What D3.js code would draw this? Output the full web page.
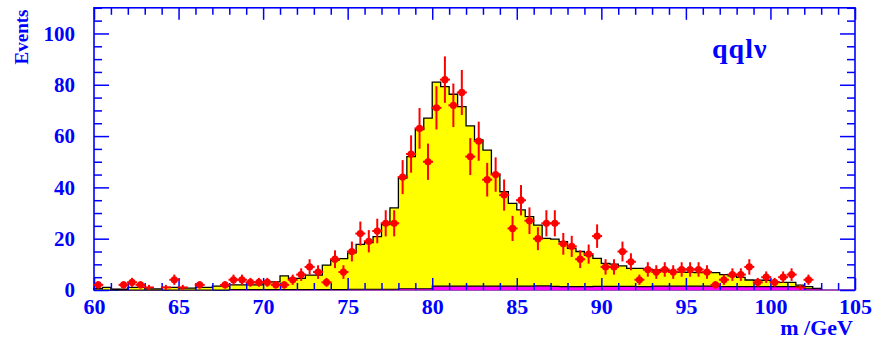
<!DOCTYPE html>
<html>
<head>
<meta charset="utf-8">
<script src="https://cdn.jsdelivr.net/npm/d3@7/dist/d3.min.js"></script>
<style>
  html, body { margin: 0; padding: 0; background: #fff; }
  svg { display: block; }
  svg text { font-family: "Liberation Serif", "Times New Roman", serif !important; font-weight: bold; fill: #0000ff; }
</style>
</head>
<body>
<svg id="chart" width="872" height="339"></svg>
<script>
// Mass histogram, 0.5 GeV bins from 60 to 103 GeV
const binLow = 60, binWidth = 0.5;

// Observed events per bin (bin centres 60.25 ... 102.75)
const dataCounts = [
  2, 0, 0, 2, 3, 2, 1, 0, 1, 4,
  1, 0, 2, 0, 0, 2, 4, 4, 3, 3,
  3, 2, 2, 4, 6, 9, 7, 3, 12, 7,
  15, 22, 19, 23, 26, 26, 44, 53, 63, 50,
  71, 82, 72, 77, 52, 58, 43, 45, 37, 24,
  35, 27, 20, 26, 26, 18, 17, 12, 14, 21,
  9, 9, 15, 11, 4, 8, 7, 8, 7, 8,
  8, 8, 7, 2, 4, 6, 6, 9, 3, 5,
  3, 5, 6, 1, 4, 0
];

// Total Monte Carlo expectation per bin
const mcTotal = [
  0.5, 1.0, 0.3, 0.3, 1.0, 1.0, 0.4, 0.4, 1.0, 1.0,
  0.7, 0.7, 1.0, 1.0, 1.5, 1.5, 2.0, 2.0, 2.0, 2.0,
  3.2, 3.2, 5.5, 4.5, 4.5, 5.8, 5.8, 9.7, 11.7, 12.2,
  14.5, 17.8, 18.5, 20.8, 25.5, 32.0, 43.6, 52.0, 62.5, 67.0,
  81.0, 79.3, 76.3, 71.5, 64.0, 58.5, 54.5, 45.2, 38.3, 33.8,
  31.2, 28.6, 25.3, 20.1, 19.8, 18.8, 16.2, 15.0, 13.6, 12.3,
  10.4, 10.1, 9.4, 8.4, 8.4, 8.0, 7.8, 7.5, 7.0, 7.0,
  6.9, 6.8, 6.8, 6.8, 6.0, 5.5, 4.9, 3.9, 3.8, 3.8,
  3.2, 3.0, 3.0, 1.9, 1.3, 0.6
];

// Background component (magenta)
const mcBackground = [
  0, 0, 0, 0, 0, 0, 0, 0, 0, 0,
  0, 0, 0, 0, 0, 0, 0.2, 0.2, 0.2, 0.2,
  0.2, 0.2, 0.2, 0.2, 0.2, 0.2, 0.2, 0.2, 0.2, 0.2,
  0.3, 0.3, 0.3, 0.3, 0.3, 0.3, 0.5, 0.5, 0.5, 0.5,
  1.5, 1.5, 1.5, 1.5, 1.5, 1.5, 1.5, 1.5, 1.5, 1.5,
  1.5, 1.5, 1.6, 1.6, 1.4, 1.3, 1.3, 1.3, 1.3, 1.4,
  1.4, 1.4, 1.4, 1.4, 1.3, 1.3, 1.5, 1.5, 1.5, 1.5,
  1.5, 1.5, 1.5, 1.5, 1.3, 1.3, 1.3, 1.3, 1.3, 1.3,
  1.3, 1.3, 1.3, 1.3, 0.5, 0.5
];

// Second background component (red), 60 to 105 GeV
const mcOther = [
  0, 0.3, 0.3, 0, 0, 0, 0, 0, 0.3, 0,
  0, 0, 0, 0, 0.3, 0.3, 0, 0, 0, 0,
  0, 0, 0, 0, 0, 0, 0, 0, 0, 0,
  0, 0, 0, 0, 0, 0, 0, 0, 0, 0,
  0, 0, 0, 0, 0, 0, 0, 0, 0, 0,
  0, 0, 0, 0, 0, 0, 0, 0, 0, 0,
  0, 0, 0, 0, 0, 0, 0, 0, 0, 0,
  0, 0, 0, 0, 0, 0, 0, 0, 0, 0,
  0, 0, 0, 0, 0, 0, 0, 0, 0, 0
];

const xMajorTicks = [60, 65, 70, 75, 80, 85, 90, 95, 100, 105];
const yMajorTicks = [0, 20, 40, 60, 80, 100];

const blue = "#0000ff";
const serif = '"Liberation Serif", "Times New Roman", serif';
const svg = d3.select("#chart");

const x = d3.scaleLinear().domain([60, 105]).range([94, 855]);
const y = d3.scaleLinear().domain([0, 110]).range([290, 7.8]);

// step-histogram helpers
function histPoints(vals) {
  const pts = vals.map((v, i) => [binLow + i * binWidth, v]);
  pts.push([binLow + vals.length * binWidth, vals[vals.length - 1]]);
  return pts;
}
const area = d3.area().curve(d3.curveStepAfter)
  .x(d => x(d[0])).y0(y(0)).y1(d => y(d[1]));
function outline(vals) {
  const xs0 = binLow, xs1 = binLow + vals.length * binWidth;
  const pts = histPoints(vals).map(d => [x(d[0]), y(d[1])]);
  const line = d3.line().curve(d3.curveStepAfter);
  return "M" + x(xs0) + "," + y(0) + "L" + line(pts).slice(1) + "L" + x(xs1) + "," + y(0);
}

function drawHist(vals, fill, stroke, sw) {
  svg.append("path").attr("d", area(histPoints(vals))).attr("fill", fill).attr("stroke", "none");
  svg.append("path").attr("d", outline(vals)).attr("fill", "none")
    .attr("stroke", stroke).attr("stroke-width", sw);
}

// frame
svg.append("rect").attr("x", x(60)).attr("y", y(110))
  .attr("width", x(105) - x(60)).attr("height", y(0) - y(110))
  .attr("fill", "none").attr("stroke", blue).attr("stroke-width", 1.6);

drawHist(mcOther, "#ff6030", "#ff7070", 1.2);
drawHist(mcTotal, "#ffff00", "#000000", 1.3);
drawHist(mcBackground, "#ff00ff", "#000000", 1.1);

// axes with inward ticks
const xMinor = d3.range(60, 106, 1).filter(v => v % 5 !== 0);
const yMinor = d3.range(0, 111, 5).filter(v => v % 20 !== 0);

function styleAxis(g) {
  g.attr("font-family", serif);
  g.select(".domain").remove();
  g.selectAll(".tick line").attr("stroke", blue).attr("stroke-width", 1.5);
  g.selectAll("text").attr("fill", blue).style("font-family", serif).style("font-weight", "bold");
}

const xBottom = svg.append("g").attr("transform", `translate(0,${y(0)})`)
  .call(d3.axisBottom(x).tickValues(xMajorTicks).tickSize(-12).tickPadding(8).tickFormat(d3.format("d")));
styleAxis(xBottom);
xBottom.selectAll("text").style("font-size", "22px").attr("dy", "0.71em");
svg.append("g").attr("transform", `translate(0,${y(0)})`)
  .call(d3.axisBottom(x).tickValues(xMinor).tickSize(-7).tickFormat("")).call(styleAxis);

svg.append("g").attr("transform", `translate(0,${y(110)})`)
  .call(d3.axisTop(x).tickValues(xMajorTicks).tickSize(-12).tickFormat("")).call(styleAxis);
svg.append("g").attr("transform", `translate(0,${y(110)})`)
  .call(d3.axisTop(x).tickValues(xMinor).tickSize(-7).tickFormat("")).call(styleAxis);

const yLeft = svg.append("g").attr("transform", `translate(${x(60)},0)`)
  .call(d3.axisLeft(y).tickValues(yMajorTicks).tickSize(-15).tickPadding(19).tickFormat(d3.format("d")));
styleAxis(yLeft);
yLeft.selectAll("text").style("font-size", "21px");
svg.append("g").attr("transform", `translate(${x(60)},0)`)
  .call(d3.axisLeft(y).tickValues(yMinor).tickSize(-8).tickFormat("")).call(styleAxis);

svg.append("g").attr("transform", `translate(${x(105)},0)`)
  .call(d3.axisRight(y).tickValues(yMajorTicks).tickSize(-15).tickFormat("")).call(styleAxis);
svg.append("g").attr("transform", `translate(${x(105)},0)`)
  .call(d3.axisRight(y).tickValues(yMinor).tickSize(-8).tickFormat("")).call(styleAxis);

// data points with statistical error bars
const points = dataCounts.map((n, i) => ({ m: binLow + (i + 0.5) * binWidth, n }))
  .filter(d => d.n > 0);
const red = "#ff0000";
const pg = svg.append("g");
pg.selectAll("line.err").data(points).join("line")
  .attr("x1", d => x(d.m)).attr("x2", d => x(d.m))
  .attr("y1", d => y(d.n - Math.sqrt(d.n))).attr("y2", d => y(d.n + Math.sqrt(d.n)))
  .attr("stroke", red).attr("stroke-width", 2);
pg.selectAll("line.bin").data(points).join("line")
  .attr("x1", d => x(d.m) - 5).attr("x2", d => x(d.m) + 5)
  .attr("y1", d => y(d.n)).attr("y2", d => y(d.n))
  .attr("stroke", red).attr("stroke-width", 2);
pg.selectAll("circle").data(points.filter(d => d.n > 1)).join("circle")
  .attr("cx", d => x(d.m)).attr("cy", d => y(d.n)).attr("r", 3.6)
  .attr("fill", red);

// labels
svg.append("text").attr("transform", "translate(28,37) rotate(-90)")
  .attr("text-anchor", "middle").style("font-size", "19px").text("Events");
svg.append("text").attr("x", 853).attr("y", 335).attr("text-anchor", "end")
  .style("font-size", "22px").text("m /GeV");
svg.append("text").attr("x", 712).attr("y", 58).style("font-size", "28px")
  .style("letter-spacing", "1px").text("qqlν");
</script>
</body>
</html>
